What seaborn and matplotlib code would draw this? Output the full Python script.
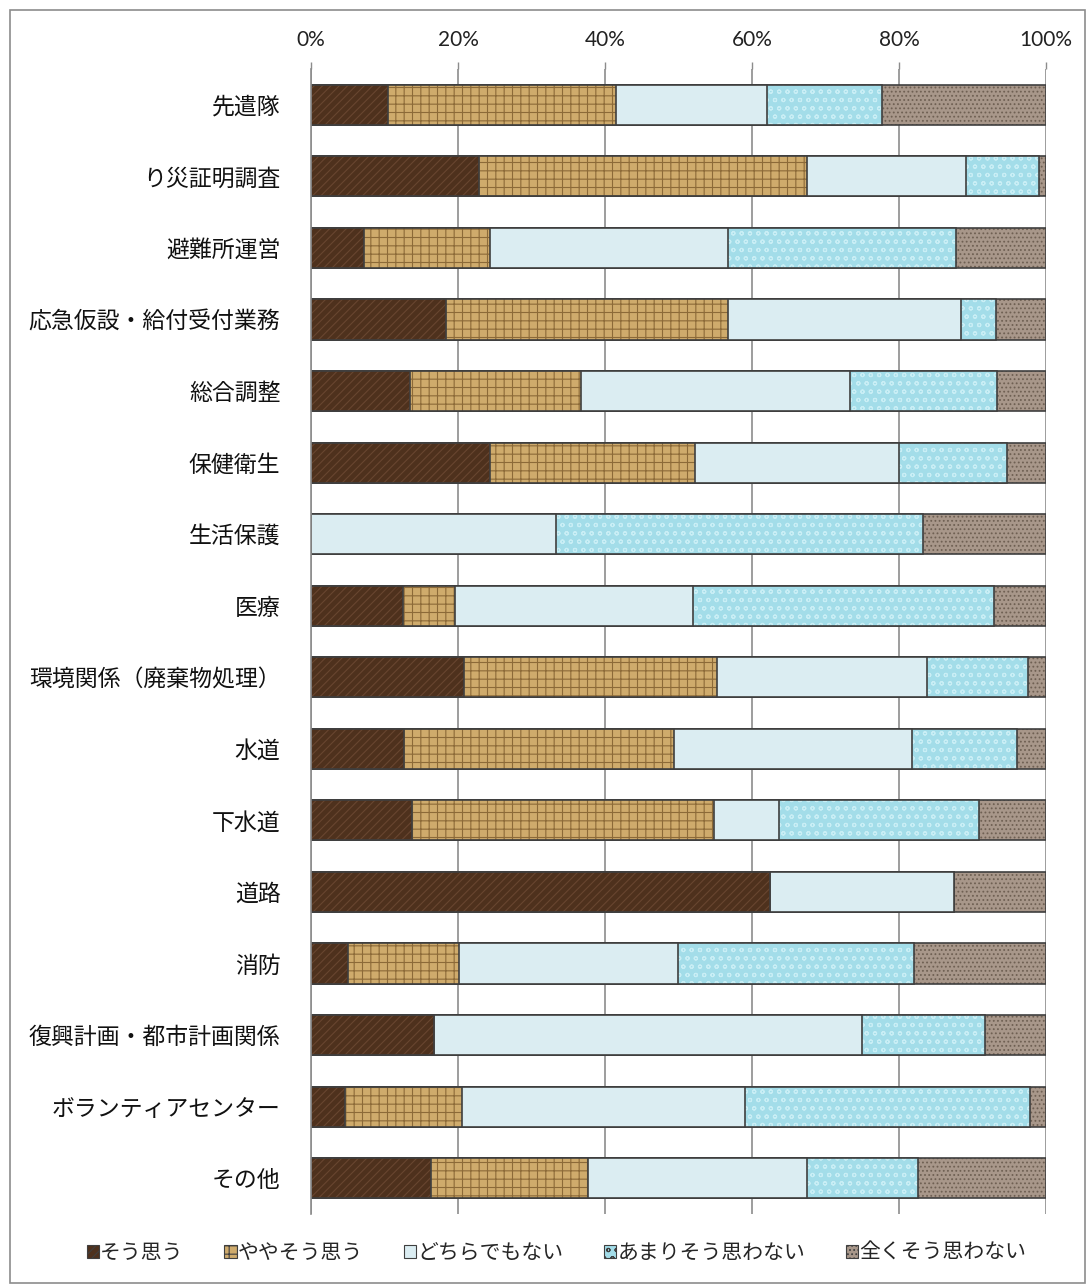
import numpy as np
import pandas as pd
import seaborn as sns
import matplotlib.pyplot as plt
from matplotlib.patches import Patch, Rectangle
from matplotlib.ticker import PercentFormatter

# Survey items (top to bottom)
categories = [
    "先遣隊", "り災証明調査", "避難所運営", "応急仮設・給付受付業務", "総合調整",
    "保健衛生", "生活保護", "医療", "環境関係（廃棄物処理）", "水道", "下水道",
    "道路", "消防", "復興計画・都市計画関係", "ボランティアセンター", "その他",
]
series_names = ["そう思う", "ややそう思う", "どちらでもない", "あまりそう思わない", "全くそう思わない"]

# Share of answers per item (%)
agree          = [10.5, 22.9,  7.2, 18.3, 13.5, 24.4,  0.0, 12.5, 20.8, 12.7, 13.8, 62.5,  5.1, 16.7,  4.6, 16.3]
somewhat_agree = [31.0, 44.6, 17.2, 38.5, 23.2, 27.9,  0.0,  7.1, 34.4, 36.7, 41.0,  0.0, 15.0,  0.0, 16.0, 21.4]
neutral        = [20.6, 21.6, 32.4, 31.7, 36.6, 27.7, 33.3, 32.4, 28.6, 32.4,  8.9, 25.0, 29.8, 58.3, 38.4, 29.8]
rather_not     = [15.6,  9.9, 31.0,  4.7, 20.1, 14.7, 50.0, 40.9, 13.7, 14.2, 27.2,  0.0, 32.1, 16.7, 38.8, 15.1]
not_at_all     = [22.3,  1.0, 12.2,  6.8,  6.6,  5.3, 16.7,  7.1,  2.5,  4.0,  9.1, 12.5, 18.0,  8.3,  2.2, 17.4]

xticks = [0, 20, 40, 60, 80, 100]

df = pd.DataFrame({
    "項目": categories,
    series_names[0]: agree,
    series_names[1]: somewhat_agree,
    series_names[2]: neutral,
    series_names[3]: rather_not,
    series_names[4]: not_at_all,
})
cum = df[series_names].cumsum(axis=1)
cum["項目"] = df["項目"]

# face colour, hatch, hatch colour for each answer
styles = [
    ("#4e311d", "////", "#684630"),
    ("#cfab6c", "++",   "#8c6a38"),
    ("#dbedf2", None,   "#dbedf2"),
    ("#a3dde9", "oo",   "#c9eef5"),
    ("#a8978a", "....", "#6f6053"),
]
edge = "#3f3f3f"

sns.set_theme(style="white")
plt.rcParams["font.family"] = ["Noto Sans CJK JP", "DejaVu Sans"]
plt.rcParams["hatch.linewidth"] = 0.8

fig = plt.figure(figsize=(10.87, 12.85), dpi=100)
ax = fig.add_axes([311 / 1087, 1 - 1214 / 1285, (1046 - 311) / 1087, (1214 - 69) / 1285])

# stacked bars: draw cumulative totals from the right-most answer back to the left
for k in reversed(range(len(series_names))):
    face, hatch, hcol = styles[k]
    sns.barplot(data=cum, x=series_names[k], y="項目", orient="h", ax=ax,
                color=face, hatch=hatch, edgecolor=hcol, linewidth=0,
                width=0.56, saturation=1, errorbar=None)
    sns.barplot(data=cum, x=series_names[k], y="項目", orient="h", ax=ax,
                color=edge, fill=False, linewidth=1.2,
                width=0.56, saturation=1, errorbar=None)

ax.set_xlim(0, 100)
ax.set_ylim(len(categories) - 0.5, -0.5)
ax.set_xticks(xticks)
ax.xaxis.set_major_formatter(PercentFormatter(decimals=0))
ax.xaxis.tick_top()
ax.tick_params(axis="x", top=True, bottom=False, length=5, width=1, color="#8c8c8c",
               labelsize=15, labelcolor="#222222", pad=9)
for lbl in ax.get_xticklabels():
    lbl.set_fontfamily(["Lato", "DejaVu Sans"])
ax.tick_params(axis="y", left=False, labelsize=16.5, labelcolor="#111111", pad=16)
ax.set_xlabel("")
ax.set_ylabel("")
ax.grid(axis="x", color="#8c8c8c", linewidth=1.2)
ax.set_axisbelow(True)
for s in ["top", "bottom", "right"]:
    ax.spines[s].set_visible(False)
ax.spines["left"].set_color("#8c8c8c")
ax.spines["left"].set_linewidth(1.2)

# legend along the bottom
handles = [Patch(facecolor=f, hatch=h, edgecolor=edge, linewidth=0.8) for f, h, _ in styles]
fig.legend(handles, series_names, loc="center", bbox_to_anchor=(0.512, 1 - 1253 / 1285),
           ncol=5, frameon=False, fontsize=15, handlelength=0.6, handleheight=0.6,
           handletextpad=0.05, columnspacing=1.95)

# chart frame
fig.patches.append(Rectangle((10 / 1087, 2 / 1285), 1075 / 1087, 1273 / 1285,
                             transform=fig.transFigure, fill=False,
                             edgecolor="#8c8c8c", linewidth=1.2))

fig.savefig("out.png", dpi=100)
